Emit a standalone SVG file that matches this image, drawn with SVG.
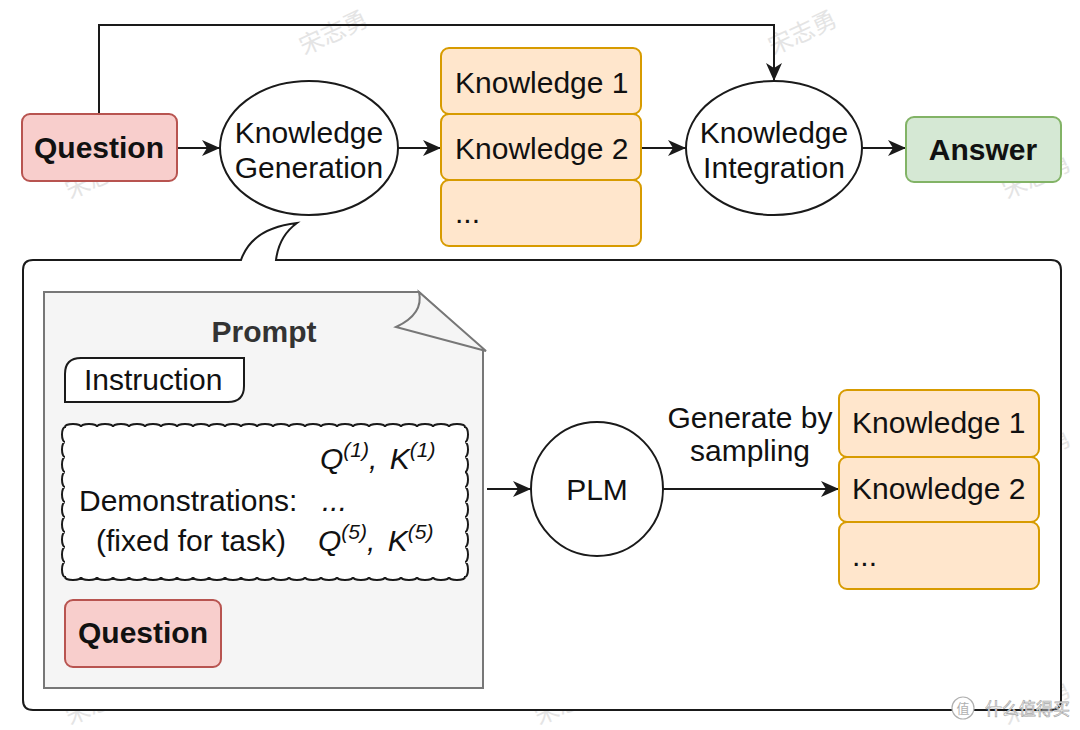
<svg xmlns="http://www.w3.org/2000/svg" width="1080" height="730" viewBox="0 0 1080 730">
<style>
  .t { font-family: "Liberation Sans", Arial, sans-serif; font-size: 30px; fill: #111; }
  .b { font-weight: bold; }
  .c { text-anchor: middle; }
  .ln { fill: none; stroke: #1a1a1a; stroke-width: 2; }
  .red { fill: #f8cecc; stroke: #b85450; stroke-width: 2; }
  .org { fill: #ffe6cc; stroke: #d79b00; stroke-width: 2; }
  .grn { fill: #d5e8d4; stroke: #82b366; stroke-width: 2; }
  .ell { fill: #ffffff; stroke: #1a1a1a; stroke-width: 2; }
  .wm { font-family: "Noto Sans CJK SC", sans-serif; font-size: 24px; fill: #e4e4e4; }
  .it { font-style: italic; }
  .sup { font-size: 21px; }
</style>
<defs>
  <marker id="arr" markerUnits="userSpaceOnUse" markerWidth="20" markerHeight="18" refX="18" refY="8" orient="auto">
    <path d="M0,0 L18,8 L0,16 L5,8 Z" fill="#1a1a1a"/>
  </marker>
</defs>
<rect width="1080" height="730" fill="#ffffff"/>

<g id="watermarks">
  <text class="wm c" transform="translate(337,40) rotate(-25)">宋志勇</text>
  <text class="wm c" transform="translate(806,40) rotate(-25)">宋志勇</text>
  <text class="wm c" transform="translate(103,184) rotate(-25)">宋志勇</text>
  <text class="wm c" transform="translate(572,184) rotate(-25)">宋志勇</text>
  <text class="wm c" transform="translate(1040,184) rotate(-25)">宋志勇</text>
  <text class="wm c" transform="translate(337,320) rotate(-25)">宋志勇</text>
  <text class="wm c" transform="translate(806,320) rotate(-25)">宋志勇</text>
  <text class="wm c" transform="translate(103,459) rotate(-25)">宋志勇</text>
  <text class="wm c" transform="translate(572,459) rotate(-25)">宋志勇</text>
  <text class="wm c" transform="translate(1040,459) rotate(-25)">宋志勇</text>
  <text class="wm c" transform="translate(337,602) rotate(-25)">宋志勇</text>
  <text class="wm c" transform="translate(806,602) rotate(-25)">宋志勇</text>
  <text class="wm c" transform="translate(103,710) rotate(-25)">宋志勇</text>
  <text class="wm c" transform="translate(572,710) rotate(-25)">宋志勇</text>
  <text class="wm c" transform="translate(1040,710) rotate(-25)">宋志勇</text>
</g>

<g id="callout">
  <path d="M241,260 L33,260 Q23,260 23,270 L23,700 Q23,710 33,710 L1051,710 Q1061,710 1061,700 L1061,270 Q1061,260 1051,260 L276,260 Q279,236 297,223 Q252,228 241,260 Z" fill="#ffffff" stroke="#1a1a1a" stroke-width="2"/>
</g>

<g id="connectors">
  <path class="ln" d="M99,114 V25 H774 V81" marker-end="url(#arr)"/>
  <path class="ln" d="M177,148 H220" marker-end="url(#arr)"/>
  <path class="ln" d="M398,148 H441" marker-end="url(#arr)"/>
  <path class="ln" d="M641,148 H686" marker-end="url(#arr)"/>
  <path class="ln" d="M862,148 H906" marker-end="url(#arr)"/>
  <path class="ln" d="M487,489 H531" marker-end="url(#arr)"/>
  <path class="ln" d="M663,489 H839" marker-end="url(#arr)"/>
  <text class="t c" x="750" y="428">Generate by</text>
  <text class="t c" x="750" y="461">sampling</text>
</g>

<g id="question-top">
  <rect class="red" x="22" y="114" width="155" height="67" rx="8"/>
  <text class="t b c" x="99" y="158">Question</text>
</g>

<g id="knowledge-generation">
  <ellipse class="ell" cx="309" cy="148" rx="89" ry="67"/>
  <text class="t c" x="309" y="143">Knowledge</text>
  <text class="t c" x="309" y="178">Generation</text>
</g>

<g id="knowledge-top-1">
  <rect class="org" x="441" y="48" width="200" height="66" rx="8"/>
  <text class="t" x="455" y="93">Knowledge 1</text>
</g>
<g id="knowledge-top-2">
  <rect class="org" x="441" y="114" width="200" height="66" rx="8"/>
  <text class="t" x="455" y="159">Knowledge 2</text>
</g>
<g id="knowledge-top-3">
  <rect class="org" x="441" y="180" width="200" height="66" rx="8"/>
  <text class="t" x="455" y="223">...</text>
</g>

<g id="knowledge-integration">
  <ellipse class="ell" cx="774" cy="148" rx="88" ry="67"/>
  <text class="t c" x="774" y="143">Knowledge</text>
  <text class="t c" x="774" y="178">Integration</text>
</g>

<g id="answer">
  <rect class="grn" x="906" y="117" width="155" height="65" rx="8"/>
  <text class="t b c" x="983" y="160">Answer</text>
</g>

<g id="prompt">
  <path d="M44,292 L419,292 L483,350 L483,688 L44,688 Z" fill="#f5f5f5" stroke="#777" stroke-width="2"/>
  <path d="M419,292 Q424,314 396,327 L486,351 Z" fill="#f5f5f5" stroke="#777" stroke-width="2"/>
  <text class="t b c" x="264" y="342" style="fill:#333">Prompt</text>
</g>

<g id="instruction">
  <path d="M65,402 L65,374 Q65,358 81,358 L244,358 L244,386 Q244,402 228,402 Z" fill="#ffffff" stroke="#1a1a1a" stroke-width="2"/>
  <text class="t" x="84" y="390">Instruction</text>
</g>

<g id="demonstrations">
  <path d="M65,427 a8,3 0 0 1 16,0 a8,3 0 0 1 16,0 a8,3 0 0 1 16,0 a8,3 0 0 1 16,0 a8,3 0 0 1 16,0 a8,3 0 0 1 16,0 a8,3 0 0 1 16,0 a8,3 0 0 1 16,0 a8,3 0 0 1 16,0 a8,3 0 0 1 16,0 a8,3 0 0 1 16,0 a8,3 0 0 1 16,0 a8,3 0 0 1 16,0 a8,3 0 0 1 16,0 a8,3 0 0 1 16,0 a8,3 0 0 1 16,0 a8,3 0 0 1 16,0 a8,3 0 0 1 16,0 a8,3 0 0 1 16,0 a8,3 0 0 1 16,0 a8,3 0 0 1 16,0 a8,3 0 0 1 16,0 a8,3 0 0 1 16,0 a8,3 0 0 1 16,0 a8,3 0 0 1 16,0
    a3,7.5 0 0 1 0,15 a3,7.5 0 0 1 0,15 a3,7.5 0 0 1 0,15 a3,7.5 0 0 1 0,15 a3,7.5 0 0 1 0,15 a3,7.5 0 0 1 0,15 a3,7.5 0 0 1 0,15 a3,7.5 0 0 1 0,15 a3,7.5 0 0 1 0,15 a3,7.5 0 0 1 0,15
    a8,3 0 0 1 -16,0 a8,3 0 0 1 -16,0 a8,3 0 0 1 -16,0 a8,3 0 0 1 -16,0 a8,3 0 0 1 -16,0 a8,3 0 0 1 -16,0 a8,3 0 0 1 -16,0 a8,3 0 0 1 -16,0 a8,3 0 0 1 -16,0 a8,3 0 0 1 -16,0 a8,3 0 0 1 -16,0 a8,3 0 0 1 -16,0 a8,3 0 0 1 -16,0 a8,3 0 0 1 -16,0 a8,3 0 0 1 -16,0 a8,3 0 0 1 -16,0 a8,3 0 0 1 -16,0 a8,3 0 0 1 -16,0 a8,3 0 0 1 -16,0 a8,3 0 0 1 -16,0 a8,3 0 0 1 -16,0 a8,3 0 0 1 -16,0 a8,3 0 0 1 -16,0 a8,3 0 0 1 -16,0 a8,3 0 0 1 -16,0
    a3,7.5 0 0 1 0,-15 a3,7.5 0 0 1 0,-15 a3,7.5 0 0 1 0,-15 a3,7.5 0 0 1 0,-15 a3,7.5 0 0 1 0,-15 a3,7.5 0 0 1 0,-15 a3,7.5 0 0 1 0,-15 a3,7.5 0 0 1 0,-15 a3,7.5 0 0 1 0,-15 a3,7.5 0 0 1 0,-15 Z" fill="#ffffff" stroke="#1a1a1a" stroke-width="2"/>
  <text class="t it" x="320" y="469">Q<tspan class="sup" dy="-12">(1)</tspan><tspan dy="12">, </tspan><tspan dx="4">K</tspan><tspan class="sup" dy="-12">(1)</tspan></text>
  <text class="t" x="79" y="511">Demonstrations:</text>
  <text class="t it" x="322" y="511">...</text>
  <text class="t" x="96" y="551">(fixed for task)</text>
  <text class="t it" x="318" y="551">Q<tspan class="sup" dy="-12">(5)</tspan><tspan dy="12">, </tspan><tspan dx="4">K</tspan><tspan class="sup" dy="-12">(5)</tspan></text>
</g>

<g id="question-inner">
  <rect class="red" x="65" y="600" width="156" height="67" rx="8"/>
  <text class="t b c" x="143" y="643">Question</text>
</g>

<g id="plm">
  <ellipse class="ell" cx="597" cy="489" rx="66" ry="67"/>
  <text class="t c" x="597" y="500">PLM</text>
</g>

<g id="knowledge-bottom-1">
  <rect class="org" x="839" y="390" width="200" height="67" rx="8"/>
  <text class="t" x="852" y="433">Knowledge 1</text>
</g>
<g id="knowledge-bottom-2">
  <rect class="org" x="839" y="457" width="200" height="65" rx="8"/>
  <text class="t" x="852" y="499">Knowledge 2</text>
</g>
<g id="knowledge-bottom-3">
  <rect class="org" x="839" y="522" width="200" height="67" rx="8"/>
  <text class="t" x="852" y="566">...</text>
</g>

<g id="logo">
  <circle cx="963" cy="708" r="11" fill="#ffffff" stroke="#b0b0b0" stroke-width="1.2"/>
  <text x="963" y="713" text-anchor="middle" style="font-family:'Noto Sans CJK SC',sans-serif;font-size:13px;fill:#b0b0b0">值</text>
  <text x="985" y="715" style="font-family:'Noto Sans CJK SC',sans-serif;font-size:17px;fill:#ffffff;stroke:#a8a8a8;stroke-width:0.7">什么值得买</text>
</g>
</svg>
